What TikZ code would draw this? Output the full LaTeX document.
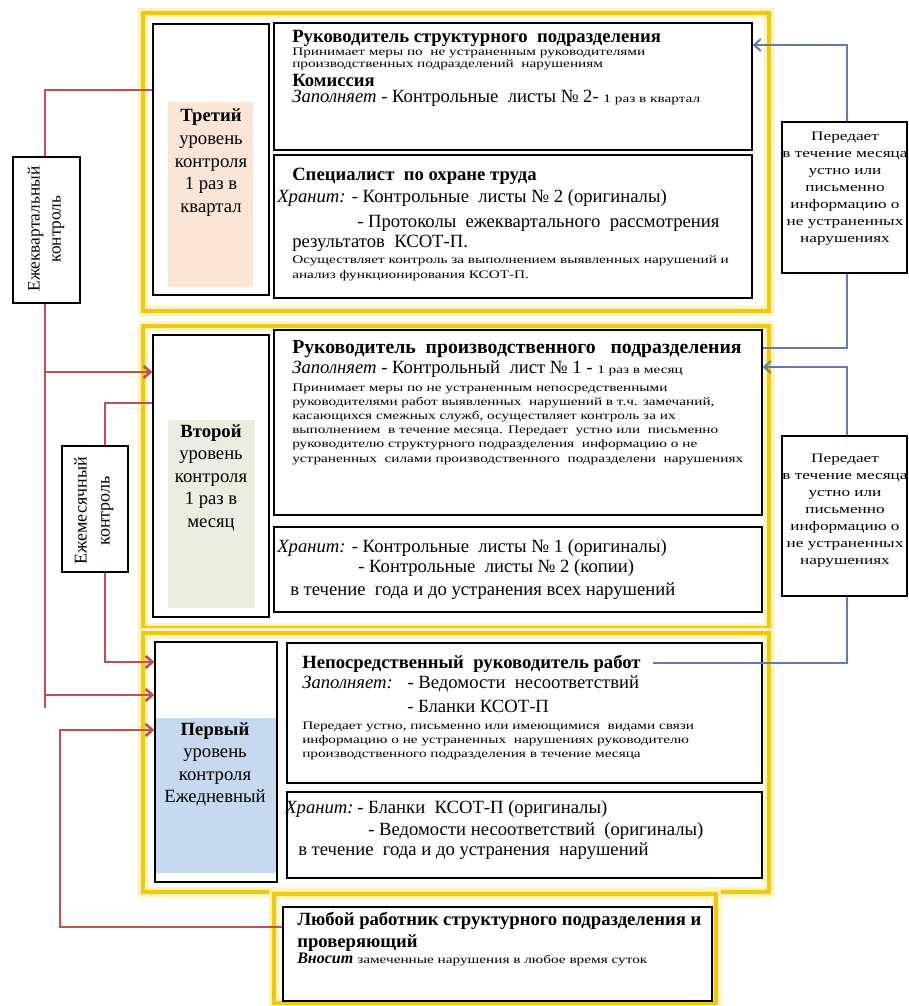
\documentclass[tikz,border=0pt]{standalone}
\usepackage{fontspec}
\setmainfont{Liberation Serif}
\newfontfamily\serifmain{Liberation Serif}
\newfontfamily\widefont{Liberation Serif}[FakeStretch=1.33]
\usetikzlibrary{arrows.meta,fit,calc}
\definecolor{redl}{RGB}{192,80,77}
\definecolor{bluel}{RGB}{95,125,180}
\definecolor{yel}{RGB}{240,200,20}
\definecolor{yelglow}{RGB}{255,244,180}
\definecolor{peach}{RGB}{251,229,214}
\definecolor{sage}{RGB}{234,237,224}
\definecolor{sky}{RGB}{198,217,240}
\newcommand{\tfont}{\serifmain\fontsize{14}{16}\selectfont}
\newcommand{\bigtfont}{\serifmain\fontsize{14.8}{17}\selectfont}
\newcommand{\sfont}{\widefont\fontsize{8.6}{10}\selectfont}
\newcommand{\ifont}{\widefont\fontsize{9.7}{12}\selectfont}
\newcommand{\rfont}{\serifmain\fontsize{13}{15.75}\selectfont}
\begin{document}
\begin{tikzpicture}[x=0.75pt,y=-0.75pt,
  yframe/.style={draw=yel, line width=2.6pt, inner sep=0pt, preaction={draw=yelglow, line width=7pt}},
  box/.style={draw=black, line width=1pt, inner sep=0pt, fill=white},
  lvlbox/.style={draw=black, line width=1pt, inner sep=0pt},
  txt/.style={inner sep=0pt, anchor=base west, font=\tfont},
  stxt/.style={inner sep=0pt, anchor=base west, font=\sfont},
  ctxt/.style={inner sep=0pt, anchor=base, font=\tfont},
  itxt/.style={inner sep=0pt, anchor=base, font=\ifont},
  redc/.style={draw=redl, line width=2pt},
  redarr/.style={redc, -{Straight Barb[length=5pt,width=9pt]}},
  bluec/.style={draw=bluel, line width=1.5pt},
  bluearr/.style={bluec, -{Straight Barb[length=5pt,width=9pt]}}]
\useasboundingbox (0,0) rectangle (909,1006);
\fill[white] (0,0) rectangle (909,1006);

% yellow frames
\node[yframe, fit={(143,13) (769,311)}] (F3) {};
\node[yframe, fit={(143,326) (769,628)}] (F2) {};
\node[yframe, fit={(143,633) (769,892)}] (F1) {};
\node[yframe, fit={(274,894) (716,1003)}] (F0) {};

% level fills
\fill[peach] (168,102) rectangle (253,287);
\fill[sage] (168,420) rectangle (255,608);
\fill[sky] (156,718) rectangle (276,873);

% level boxes
\node[lvlbox, fit={(153,24) (269,295)}] (L3) {};
\node[lvlbox, fit={(153,335) (269,617)}] (L2) {};
\node[lvlbox, fit={(155,642) (277,882)}] (L1) {};

% content boxes
\node[box, fit={(274,23) (752,150)}] (R1) {};
\node[box, fit={(274,155) (752,298)}] (R2) {};
\node[box, fit={(274,330) (762,515)}] (R3) {};
\node[box, fit={(274,527) (762,612)}] (R4) {};
\node[box, fit={(287,643) (762,783)}] (R5) {};
\node[box, fit={(287,792) (762,878)}] (R6) {};
\node[box, fit={(283,907) (712,1001)}] (R7) {};

% R5 title (start of blue connector)
\node[txt] (r5t) at (302,668) {\textbf{Непосредственный\ \ руководитель работ}};

% red connectors
\coordinate (qtop) at (45,90);
\coordinate (qbot) at (45,708);
\coordinate (q2) at (45,372);
\coordinate (q1) at (45,695);
\draw[redc] (qtop -| L3.west) -- (qtop) -- (qbot);
\draw[redarr] (q2) -- (q2 -| L2.west);
\draw[redarr] (q1) -- (q1 -| L1.west);
\coordinate (mtop) at (105,403);
\coordinate (mbot) at (105,662);
\draw[redarr] (mtop -| L2.west) -- (mtop) -- (mbot) -- (mbot -| L1.west);
\coordinate (b1) at (60,927);
\coordinate (b2) at (60,730);
\draw[redarr] (b1 -| R7.west) -- (b1) -- (b2) -- (b2 -| L1.west);

% blue connectors
\coordinate (c1) at (847,348);
\coordinate (c2) at (847,45);
\draw[bluearr] (c1 -| R3.east) -- (c1) -- (c2) -- (c2 -| R1.east);
\coordinate (d2) at (847,367);
\draw[bluearr] ([xshift=9pt]r5t.east) -- (r5t.east -| d2) -- (d2) -- (d2 -| R3.east);

% label boxes
\node[box, fit={(13,157) (80,303)}] (Q) {};
\node[rotate=90, align=center, inner sep=0pt, font=\rfont] (Qt) at (46,229) {Ежеквартальный\\контроль};
\node[box, fit={(62,446) (128,572)}] (M) {};
\node[rotate=90, align=center, inner sep=0pt, font=\serifmain\fontsize{13.5}{17.25}\selectfont] (Mt) at (94,511) {Ежемесячный\\контроль};

% info boxes
\node[box, fit={(782,122) (907,273)}] (I1) {};
\node[box, fit={(782,436) (907,596)}] (I2) {};
\foreach \t [count=\i] in {Передает, в течение месяца, устно или, письменно, информацию о, не устраненных, нарушениях}
  \node[itxt] (ia\i) at (845,{140+(\i-1)*17}) {\t};
\foreach \t [count=\i] in {Передает, в течение месяца, устно или, письменно, информацию о, не устраненных, нарушениях}
  \node[itxt] (ib\i) at (845,{462+(\i-1)*17}) {\t};

% level texts
\foreach \t [count=\i] in {\textbf{Третий}, уровень, контроля, 1 раз в, квартал}
  \node[ctxt] (la\i) at (211,{122+(\i-1)*22.5}) {\t};
\foreach \t [count=\i] in {\textbf{Второй}, уровень, контроля, 1 раз в, месяц}
  \node[ctxt] (lb\i) at (211,{437+(\i-1)*22.5}) {\t};
\foreach \t [count=\i] in {\textbf{Первый}, уровень, контроля, Ежедневный}
  \node[ctxt] (lc\i) at (215,{735+(\i-1)*22.5}) {\t};

% R1 text
\node[txt] (r1a) at (292,43) {\textbf{Руководитель структурного\ \ подразделения}};
\node[stxt] (r1b) at (292,56) {Принимает меры по\ \ не устраненным руководителями};
\node[stxt] (r1c) at (292,68) {производственных подразделений\ \ нарушениям};
\node[txt] (r1d) at (292,86) {\textbf{Комиссия}};
\node[txt] (r1e) at (292,103) {\textit{Заполняет} - Контрольные\ \ листы № 2- {\sfont 1 раз в квартал}};

% R2 text
\node[txt] (r2a) at (292,180) {\textbf{Специалист\ \ по охране труда}};
\node[txt] (r2b) at (277,202) {\textit{Хранит:} - Контрольные\ \ листы № 2 (оригиналы)};
\node[txt] (r2c) at (357,227) {- Протоколы\ \ ежеквартального\ \ рассмотрения};
\node[txt] (r2d) at (292,247) {результатов\ \ КСОТ-П.};
\node[stxt] (r2e) at (292,263) {Осуществляет контроль за выполнением выявленных нарушений и};
\node[stxt] (r2f) at (292,278) {анализ функционирования КСОТ-П.};

% R3 text
\node[inner sep=0pt, anchor=base west, font=\bigtfont] (r3a) at (292,353) {\textbf{Руководитель\ \ производственного\ \ \ подразделения}};
\node[txt] (r3b) at (292,373) {\textit{Заполняет} - Контрольный\ \ лист № 1 - {\sfont 1 раз в месяц}};
\node[stxt] (r3c) at (292,391) {Принимает меры по не устраненным непосредственными};
\node[stxt] (r3d) at (292,405) {руководителями работ выявленных\ \ нарушений в т.ч. замечаний,};
\node[stxt] (r3e) at (292,419) {касающихся смежных служб, осуществляет контроль за их};
\node[stxt] (r3f) at (292,433) {выполнением\ \ в течение месяца. Передает\ \ устно или\ \ письменно};
\node[stxt] (r3g) at (292,447) {руководителю структурного подразделения\ \ информацию\ о не};
\node[stxt] (r3h) at (292,462) {устраненных\ \ силами производственного\ \ подразделени\ \ нарушениях};

% R4 text
\node[txt] (r4a) at (277,552) {\textit{Хранит:} - Контрольные\ \ листы № 1 (оригиналы)};
\node[txt] (r4b) at (358,572) {- Контрольные\ \ листы № 2 (копии)};
\node[txt] (r4c) at (290,595) {в течение\ \ года и до устранения всех нарушений};

% R5 text
\node[txt] (r5b) at (302,688) {\makebox[79pt][l]{\textit{Заполняет:}}- Ведомости\ \ несоответствий};
\node[txt] (r5c) at (407,712) {- Бланки КСОТ-П};
\node[stxt] (r5d) at (302,729) {Передает устно, письменно или имеющимися\ \ видами связи};
\node[stxt] (r5e) at (302,743) {информацию о не устраненных\ \ нарушениях руководителю};
\node[stxt] (r5f) at (302,757) {производственного подразделения в течение месяца};

% R6 text
\node[txt] (r6a) at (285,813) {\makebox[54pt][l]{\textit{Хранит:}}- Бланки\ \ КСОТ-П (оригиналы)};
\node[txt] (r6b) at (368,835) {- Ведомости несоответствий\ \ (оригиналы)};
\node[txt] (r6c) at (298,855) {в течение\ \ года и до устранения\ \ нарушений};

% R7 text
\node[txt] (r7a) at (297,925) {\textbf{Любой работник структурного подразделения и}};
\node[txt] (r7b) at (297,947) {\textbf{проверяющий}};
\node[txt] (r7c) at (297,963) {\makebox[45pt][l]{\fontsize{12}{14}\selectfont\textbf{\textit{Вносит}}}{\sfont замеченные нарушения в любое время суток}};
\end{tikzpicture}
\end{document}
